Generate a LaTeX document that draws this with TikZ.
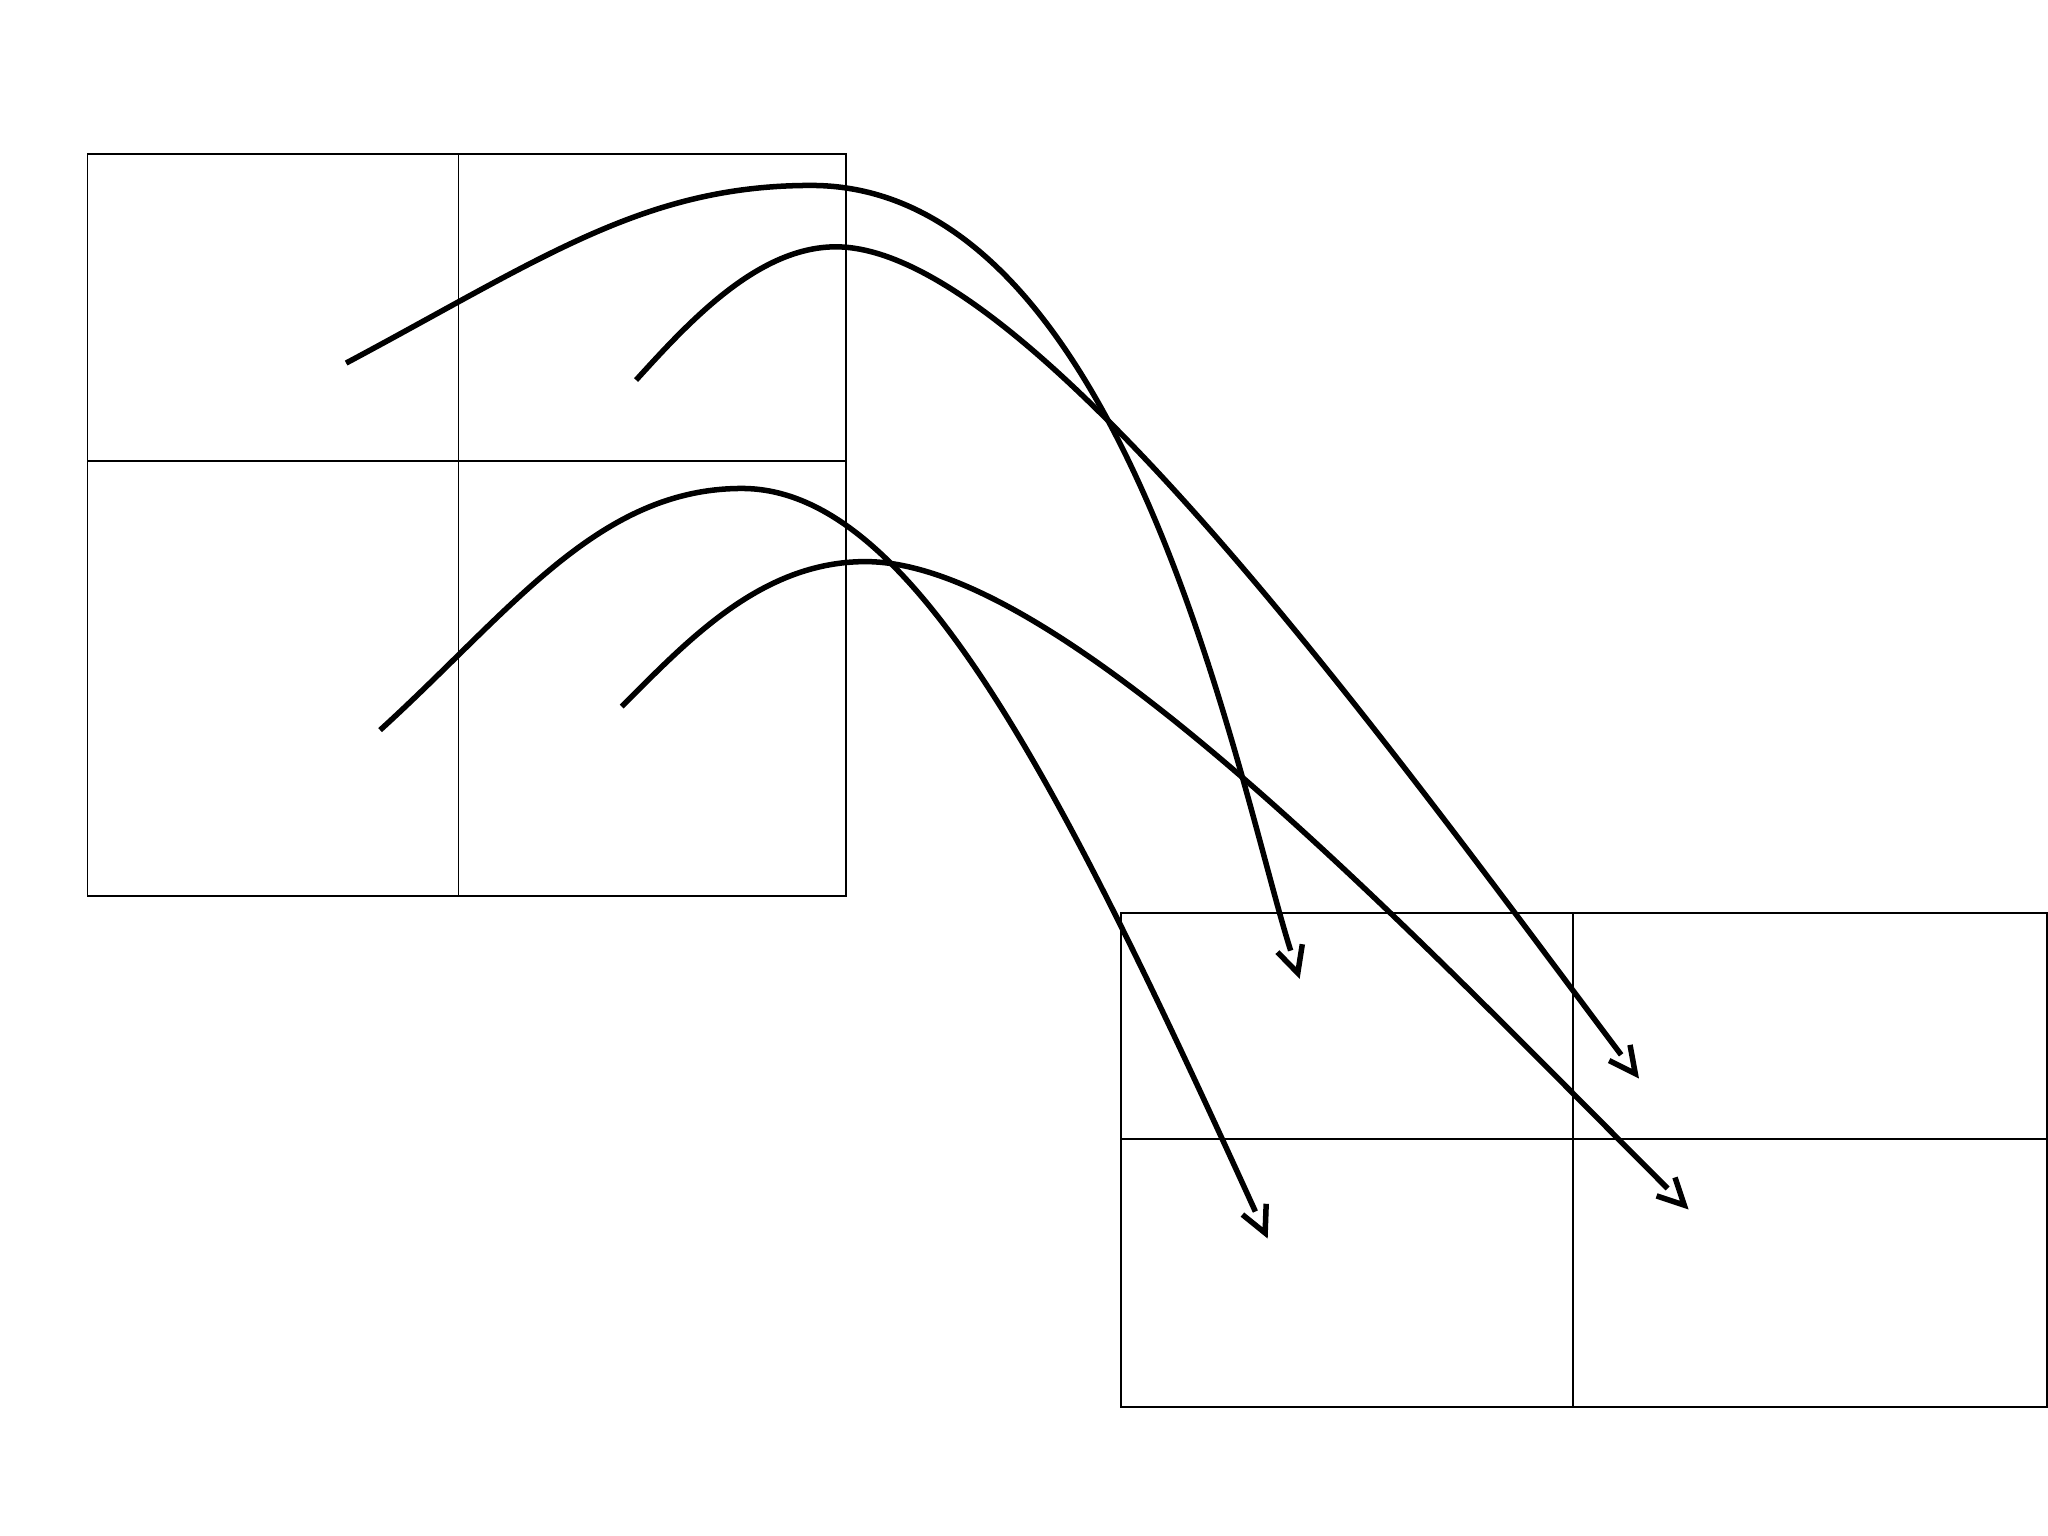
\documentclass[tikz,border=0pt]{standalone}
\usetikzlibrary{arrows.meta}
% open vee whose shaft stops at the back of the tip
\pgfdeclarearrow{
  name = OpenVee,
  setup code = {
    \pgfarrowssettipend{0pt}
    \pgfarrowssetlineend{-1.8mm}
    \pgfarrowssetbackend{-2mm}
  },
  drawing code = {
    \pgfpathmoveto{\pgfpoint{-2mm}{1mm}}
    \pgfpathlineto{\pgfpointorigin}
    \pgfpathlineto{\pgfpoint{-2mm}{-1mm}}
    \pgfusepathqstroke
  }
}
\begin{document}
\begin{tikzpicture}[boxline/.style={draw=black,line width=0.4pt},
  flow/.style={line width=1.2pt,-{OpenVee}}]
          \useasboundingbox (0,0) rectangle (15.68,11.76);
          % source grid
          \draw [boxline] (0.67,4.90) rectangle (6.48,10.58);
          \draw [boxline] (3.51,4.90) -- (3.51,10.58);
          \draw [boxline] (0.67,8.23) -- (6.48,8.23);
          % target grid
          \draw [boxline] (8.58,0.99) rectangle (15.67,4.77);
          \draw [boxline] (12.04,0.99) -- (12.04,4.77);
          \draw [boxline] (8.58,3.04) -- (15.67,3.04);

          \coordinate (s1) at (2.65,8.98);
          \coordinate (s2) at (4.87,8.85);
          \coordinate (s3) at (2.91,6.17);
          \coordinate (s4) at (4.76,6.35);
          \coordinate (t1) at (9.936,4.31);
          \coordinate (t2) at (12.52,3.54);
          \coordinate (t3) at (9.686,2.32);
          \coordinate (t4) at (12.895,2.533);

          \draw [flow] (s1) .. controls (4.15,9.78) and (4.93,10.34) .. (6.21,10.34)
                            .. controls (8.62,10.34) and (9.48,5.745) .. (t1);
          \draw [flow] (s2) .. controls (5.27,9.29) and (5.80,9.87) .. (6.40,9.87)
                            .. controls (7.90,9.87) and (10.70,5.96) .. (t2);
          \draw [flow] (s3) .. controls (3.91,7.08) and (4.58,8.02) .. (5.68,8.02)
                            .. controls (6.98,8.02) and (8.107,5.79) .. (t3);
          \draw [flow] (s4) .. controls (5.26,6.85) and (5.826,7.46) .. (6.626,7.46)
                            .. controls (8.126,7.46) and (10.774,4.654) .. (t4);
        \end{tikzpicture}
\end{document}
